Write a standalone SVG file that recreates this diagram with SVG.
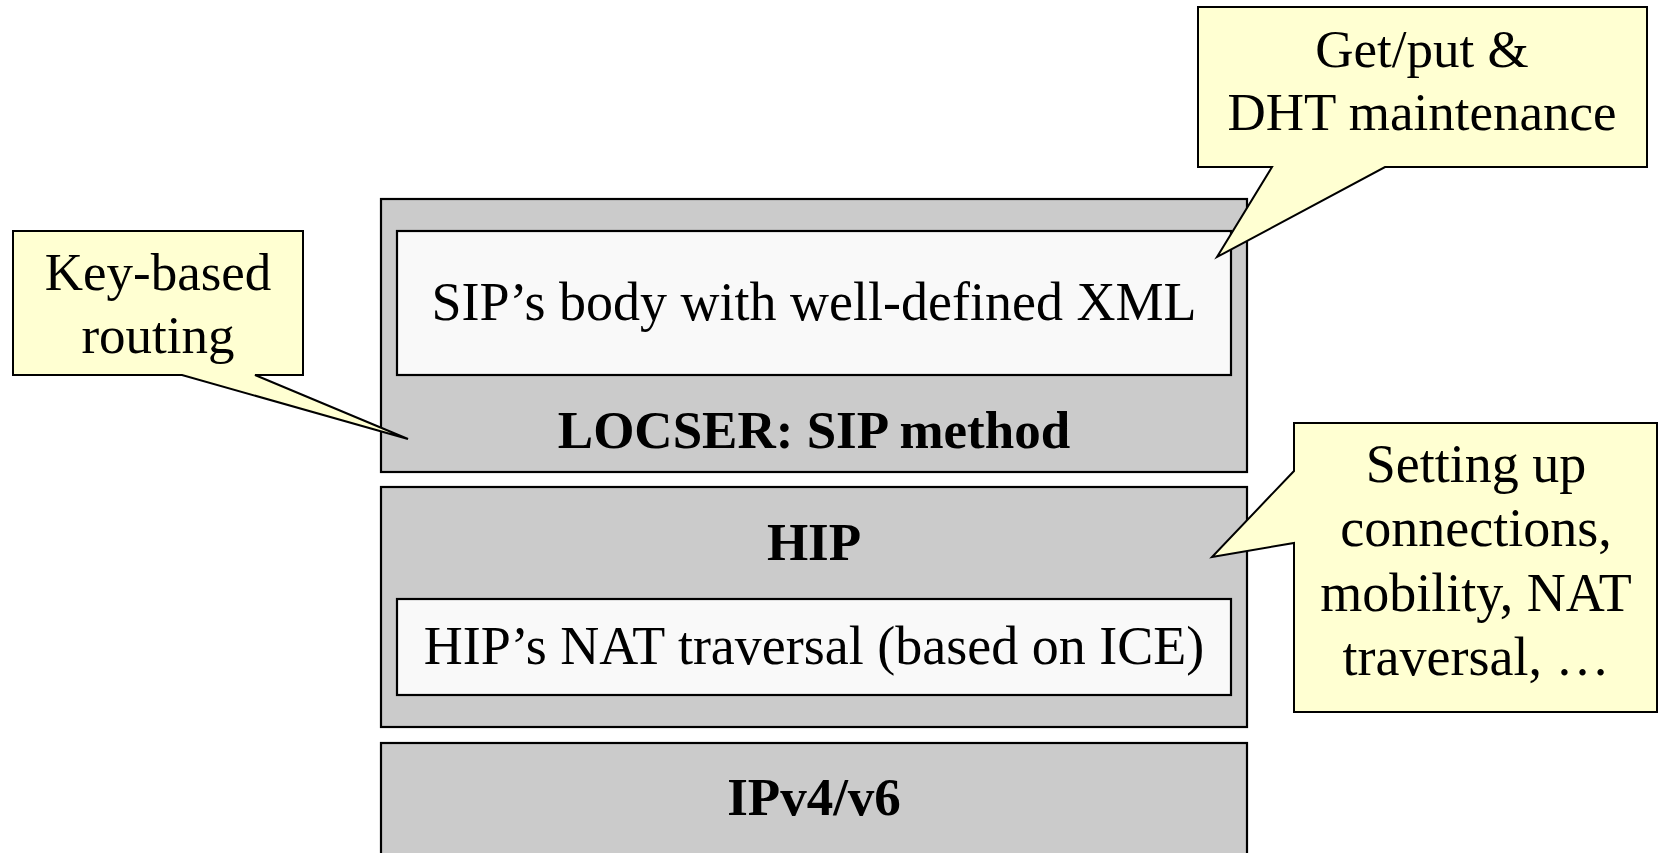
<svg xmlns="http://www.w3.org/2000/svg" width="1659" height="853" viewBox="0 0 1659 853">
<style>
.layer{fill:#cbcbcb;stroke:#000;stroke-width:2.2}
.inner{fill:#f9f9f9;stroke:#000;stroke-width:2.2}
.callout{fill:#ffffd2;stroke:#000;stroke-width:2;stroke-linejoin:miter}
text{font-family:"Liberation Serif","Times New Roman",serif;font-size:53px;fill:#000;text-anchor:middle}
.b{font-weight:bold}
.w{font-size:54px}
</style>
<rect width="1659" height="853" fill="#fff"/>
<g id="locser">
<rect class="layer" x="381" y="199" width="866" height="273"/>
<text class="b" x="814" y="448">LOCSER: SIP method</text>
</g>
<g id="sip-body">
<rect class="inner" x="397" y="231" width="834" height="144"/>
<text class="w" x="814" y="320">SIP’s body with well-defined XML</text>
</g>
<g id="hip">
<rect class="layer" x="381" y="487" width="866" height="240"/>
<text class="b" x="814" y="560">HIP</text>
</g>
<g id="hip-nat">
<rect class="inner" x="397" y="599" width="834" height="96"/>
<text class="w" x="814" y="664">HIP’s NAT traversal (based on ICE)</text>
</g>
<g id="ip">
<rect class="layer" x="381" y="743" width="866" height="120"/>
<text class="b" x="814" y="815">IPv4/v6</text>
</g>
<g id="connectors">
<g id="callout-key">
<path class="callout" d="M13,231 H303 V375 H255 L408,439 L182,375 H13 Z"/>
<text x="158" y="290">Key-based</text>
<text x="158" y="353">routing</text>
</g>
<g id="callout-get">
<path class="callout" d="M1198,7 H1647 V167 H1385 L1217,257 L1272,167 H1198 Z"/>
<text x="1422" y="67">Get/put &amp;</text>
<text x="1422" y="130">DHT maintenance</text>
</g>
<g id="callout-setup">
<path class="callout" d="M1294,423 H1657 V712 H1294 V543 L1212,557 L1294,471 Z"/>
<text class="w" x="1476" y="482">Setting up</text>
<text class="w" x="1476" y="546">connections,</text>
<text class="w" x="1476" y="611">mobility, NAT</text>
<text class="w" x="1476" y="675">traversal, …</text>
</g>
</g>
</svg>
